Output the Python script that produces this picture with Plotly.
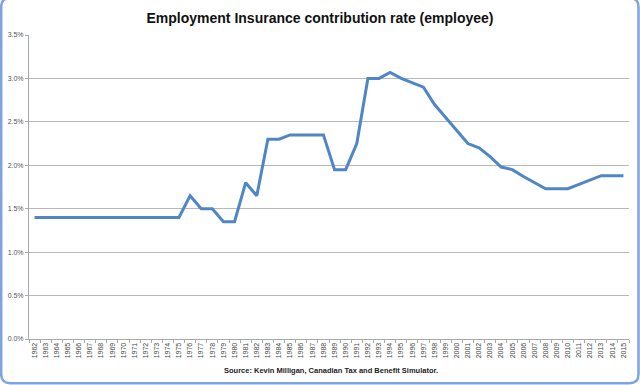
import plotly.graph_objects as go

years = [str(y) for y in range(1962, 2016)]
rates = [1.40] * 14 + [
    1.65, 1.50, 1.50, 1.35, 1.35, 1.80, 1.65, 2.30, 2.30, 2.35,
    2.35, 2.35, 2.35, 1.95, 1.95, 2.25, 3.00, 3.00, 3.07, 3.00,
    2.95, 2.90, 2.70, 2.55, 2.40, 2.25, 2.20, 2.10, 1.98, 1.95,
    1.87, 1.80, 1.73, 1.73, 1.73, 1.78, 1.83, 1.88, 1.88, 1.88,
]
y_ticks = [0.0, 0.5, 1.0, 1.5, 2.0, 2.5, 3.0, 3.5]
y_labels = ["0.0%", "0.5%", "1.0%", "1.5%", "2.0%", "2.5%", "3.0%", "3.5%"]

W, H = 640, 385
L, R, T, B = 29, 11, 35, 46
PW, PH = W - L - R, H - T - B

def px(x):
    return (x - L) / PW

def py(y):
    return (H - B - y) / PH

fig = go.Figure()
fig.add_trace(go.Scatter(
    x=years, y=rates, mode="lines",
    line=dict(color="#4f86c6", width=3),
    hoverinfo="skip", showlegend=False,
))

# rounded frame
x0, x1, y0, y1, r = 1.2, 638.5, -2, 383.2, 9
path = (
    f"M {px(x0 + r)},{py(y0)} L {px(x1 - r)},{py(y0)} "
    f"Q {px(x1)},{py(y0)} {px(x1)},{py(y0 + r)} "
    f"L {px(x1)},{py(y1 - r)} Q {px(x1)},{py(y1)} {px(x1 - r)},{py(y1)} "
    f"L {px(x0 + r)},{py(y1)} Q {px(x0)},{py(y1)} {px(x0)},{py(y1 - r)} "
    f"L {px(x0)},{py(y0 + r)} Q {px(x0)},{py(y0)} {px(x0 + r)},{py(y0)} Z"
)

fig.update_layout(
    width=W, height=H,
    margin=dict(l=L, r=R, t=T, b=B),
    paper_bgcolor="white", plot_bgcolor="white",
    font=dict(family="Liberation Sans, Arial, sans-serif", color="#444"),
    title=dict(
        text="<b>Employment Insurance contribution rate (employee)</b>",
        x=0.5, xanchor="center", y=1 - 18 / H, yanchor="middle",
        font=dict(size=14, color="#111"),
    ),
    xaxis=dict(
        type="category", tickangle=-90, tickfont=dict(size=7, color="#444"),
        showgrid=False, showline=True, linecolor="#aaaaaa", linewidth=1,
        ticks="outside", ticklen=3, tickcolor="#aaaaaa", tickson="boundaries",
        range=[-0.5, len(years) - 0.5], fixedrange=True, automargin=False,
    ),
    yaxis=dict(
        range=[0, 3.5], tickvals=y_ticks, ticktext=y_labels,
        tickfont=dict(size=7, color="#555"),
        showgrid=True, gridcolor="#b8b8b8", gridwidth=1,
        showline=True, linecolor="#aaaaaa", linewidth=1,
        ticks="outside", ticklen=3, tickcolor="#aaaaaa",
        zeroline=False, fixedrange=True, automargin=False,
    ),
    shapes=[dict(
        type="path", xref="paper", yref="paper", path=path,
        line=dict(color="#7ea3e0", width=2.5), fillcolor="rgba(0,0,0,0)",
        layer="above",
    )],
    annotations=[dict(
        text="<b>Source: Kevin Milligan, Canadian Tax and Benefit Simulator.</b>",
        xref="paper", yref="paper", x=px(331), y=py(370),
        xanchor="center", yanchor="middle", showarrow=False,
        font=dict(size=7.5, color="#222"),
    )],
)

fig.write_html(
    "out.html",
    config={"displayModeBar": False},
    post_script="document.body.style.margin='0';document.body.style.padding='0';document.body.style.overflow='hidden';",
)
